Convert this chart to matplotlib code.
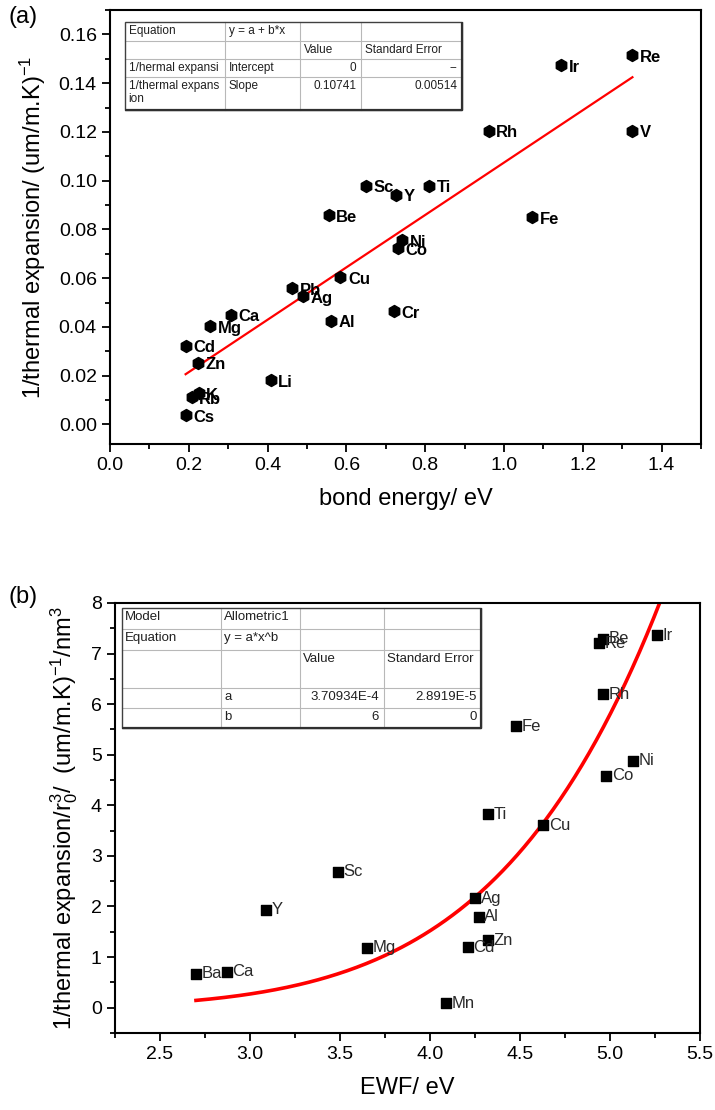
#!/usr/bin/env python3
"""Two-panel figure: inverse thermal expansion vs bond energy and vs EWF."""
import matplotlib

matplotlib.use("Agg")
import matplotlib.pyplot as plt
import numpy as np
from matplotlib.ticker import MultipleLocator, FormatStrFormatter

plt.rcParams["font.family"] = ["Liberation Sans", "DejaVu Sans"]
plt.rcParams["mathtext.fontset"] = "custom"
plt.rcParams["mathtext.rm"] = "Liberation Sans"
plt.rcParams["mathtext.it"] = "Liberation Sans:italic"
plt.rcParams["mathtext.default"] = "regular"

# panel (a): bond energy (eV) vs 1/thermal expansion
a_names = ["Re", "Ir", "Rh", "V", "Sc", "Y", "Ti", "Fe", "Ni", "Co", "Cu", "Cr",
           "Be", "Pb", "Ag", "Ca", "Mg", "Cd", "Zn", "Al", "Li", "K", "Rb", "Cs"]
a_energy = [1.326, 1.145, 0.961, 1.326, 0.649, 0.725, 0.810, 1.072, 0.741, 0.730,
            0.585, 0.720, 0.555, 0.463, 0.491, 0.307, 0.254, 0.192, 0.224, 0.562,
            0.408, 0.225, 0.207, 0.192]
a_inv = [0.1515, 0.1473, 0.1205, 0.1205, 0.0980, 0.0943, 0.0980, 0.0849, 0.0757,
         0.0722, 0.0605, 0.0464, 0.0858, 0.0560, 0.0526, 0.0450, 0.0402, 0.0323,
         0.0254, 0.0425, 0.0181, 0.0129, 0.0112, 0.0039]
a_slope = 0.10741
a_table = [["Equation", "y = a + b*x", "", ""],
           ["", "", "Value", "Standard Error"],
           ["1/hermal expansi", "Intercept", "0", "--"],
           ["1/thermal expans\nion", "Slope", "0.10741", "0.00514"]]

# panel (b): electron work function (eV) vs 1/thermal expansion / r0^3
b_names = ["Ir", "Re", "Be", "Rh", "Fe", "Ni", "Co", "Ti", "Cu", "Sc", "Y", "Ag",
           "Al", "Zn", "Cd", "Mg", "Ca", "Ba", "Mn"]
b_ewf = [5.26, 4.94, 4.96, 4.96, 4.48, 5.13, 4.98, 4.32, 4.63, 3.49, 3.09, 4.25,
         4.27, 4.32, 4.21, 3.65, 2.87, 2.70, 4.09]
b_inv = [7.36, 7.20, 7.29, 6.20, 5.56, 4.88, 4.58, 3.82, 3.61, 2.69, 1.94, 2.16,
         1.80, 1.33, 1.19, 1.18, 0.71, 0.67, 0.09]
b_a, b_b = 3.70934e-4, 6
b_table = [["Model", "Allometric1", "", ""],
           ["Equation", "y = a*x^b", "", ""],
           ["", "", "Value", "Standard Error"],
           ["", "a", "3.70934E-4", "2.8919E-5"],
           ["", "b", "6", "0"]]


def is_number(s):
    try:
        float(s)
        return True
    except ValueError:
        return s == "--"


def draw_table(ax, cells, cols, rows, fs):
    """Origin-style fit report box, edges given in axes fractions."""
    x0, x1, y0, y1 = cols[0], cols[-1], rows[-1], rows[0]
    ax.add_patch(plt.Rectangle((x0, y0), x1 - x0, y1 - y0, transform=ax.transAxes,
                               facecolor="white", edgecolor="none", zorder=5))
    for x in cols[1:-1]:
        ax.plot([x, x], [y0, y1], transform=ax.transAxes, color="#b8b8b8", lw=0.8, zorder=6)
    for y in rows[1:-1]:
        ax.plot([x0, x1], [y, y], transform=ax.transAxes, color="#b8b8b8", lw=0.8, zorder=6)
    ax.add_patch(plt.Rectangle((x0, y0), x1 - x0, y1 - y0, transform=ax.transAxes,
                               facecolor="none", edgecolor="#404040", lw=1.0, zorder=7))
    ax.plot([x1, x1, x0], [y1, y0, y0], transform=ax.transAxes, color="#303030",
            lw=1.6, zorder=7, solid_capstyle="butt")
    for i, row in enumerate(cells):
        for j, txt in enumerate(row):
            if not txt:
                continue
            if is_number(txt) and j >= 2:
                x, ha = cols[j + 1] - 0.008, "right"
            else:
                x, ha = cols[j] + 0.006, "left"
            ax.text(x, rows[i] - 0.007, txt, transform=ax.transAxes, ha=ha, va="top",
                    fontsize=fs, color="#202020", zorder=8, linespacing=1.15)


def style_axes(ax):
    for s in ax.spines.values():
        s.set_linewidth(1.5)
    ax.tick_params(which="both", direction="out", top=False, right=False,
                   labelsize=14, width=1.3)
    ax.tick_params(which="major", length=6)
    ax.tick_params(which="minor", length=3.5)


fig = plt.figure(figsize=(7.15, 11.1), dpi=100)

# ---- (a)
ax1 = fig.add_axes([0.1538, 0.600, 0.8266, 0.391])
xs = np.linspace(min(a_energy), max(a_energy), 50)
ax1.plot(xs, a_slope * xs, color="red", lw=1.6, zorder=2)
ax1.scatter(a_energy, a_inv, marker="h", s=75, color="black", zorder=3)
for n, x, y in zip(a_names, a_energy, a_inv):
    ax1.annotate(n, (x, y), xytext=(5.5, -1.5), textcoords="offset points",
                 ha="left", va="center", fontsize=12, fontweight="bold", zorder=4)
ax1.set_xlim(0, 1.5)
ax1.set_ylim(-0.008, 0.170)
ax1.xaxis.set_major_locator(MultipleLocator(0.2))
ax1.xaxis.set_minor_locator(MultipleLocator(0.1))
ax1.yaxis.set_major_locator(MultipleLocator(0.02))
ax1.yaxis.set_minor_locator(MultipleLocator(0.01))
ax1.xaxis.set_major_formatter(FormatStrFormatter("%.1f"))
ax1.yaxis.set_major_formatter(FormatStrFormatter("%.2f"))
style_axes(ax1)
ax1.set_xlabel("bond energy/ eV", fontsize=17, labelpad=10)
ax1.set_ylabel("1/thermal expansion/ (um/m.K)$^{-1}$", fontsize=17, labelpad=8)
draw_table(ax1, a_table,
           [0.0254, 0.1946, 0.3215, 0.4247, 0.5956],
           [0.9724, 0.9293, 0.8864, 0.8463, 0.7696], 8.5)
fig.text(0.012, 0.985, "(a)", fontsize=17, va="center")

# ---- (b)
ax2 = fig.add_axes([0.1608, 0.0694, 0.8182, 0.3874])
xs = np.linspace(min(b_ewf), 5.35, 200)
ax2.plot(xs, b_a * xs ** b_b, color="red", lw=2.6, zorder=2)
ax2.scatter(b_ewf, b_inv, marker="s", s=55, color="black", zorder=3)
for n, x, y in zip(b_names, b_ewf, b_inv):
    ax2.annotate(n, (x, y), xytext=(4, 0), textcoords="offset points",
                 ha="left", va="center", fontsize=12, color="#2a2a2a", zorder=4)
ax2.set_xlim(2.25, 5.5)
ax2.set_ylim(-0.5, 8)
ax2.xaxis.set_major_locator(MultipleLocator(0.5))
ax2.xaxis.set_minor_locator(MultipleLocator(0.25))
ax2.yaxis.set_major_locator(MultipleLocator(1))
ax2.yaxis.set_minor_locator(MultipleLocator(0.5))
ax2.xaxis.set_major_formatter(FormatStrFormatter("%.1f"))
style_axes(ax2)
ax2.set_xlabel("EWF/ eV", fontsize=17, labelpad=10)
ax2.set_ylabel("1/thermal expansion/r$_0^3$/  (um/m.K)$^{-1}$/nm$^3$",
               fontsize=17, labelpad=8)
draw_table(ax2, b_table,
           [0.0113, 0.1805, 0.3159, 0.4597, 0.6261],
           [0.9884, 0.9388, 0.8907, 0.8016, 0.7551, 0.7093], 9.5)
fig.text(0.012, 0.462, "(b)", fontsize=17, va="center")

fig.savefig("out.png", dpi=100)
plt.close(fig)
